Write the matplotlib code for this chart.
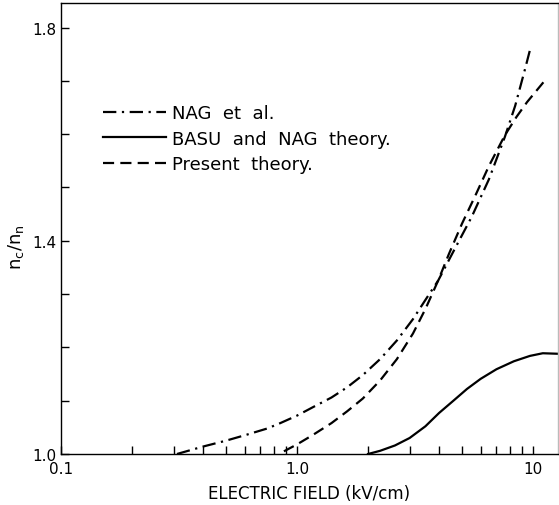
import matplotlib
matplotlib.use("Agg")
import matplotlib.pyplot as plt
from matplotlib.ticker import FixedLocator, FixedFormatter, NullFormatter

# Data
nag_x = [0.31, 0.40, 0.50, 0.61, 0.75, 0.85, 1.0, 1.17, 1.4, 1.63, 1.9, 2.25, 2.65, 3.1, 3.5,
         3.96, 4.6, 5.5, 6.5, 7.6, 8.4, 9.25, 9.8]
nag_y = [1.0, 1.014, 1.025, 1.036, 1.048, 1.058, 1.072, 1.088, 1.106, 1.125, 1.148, 1.178, 1.213,
         1.253, 1.289, 1.325, 1.38, 1.445, 1.515, 1.595, 1.653, 1.722, 1.765]

basu_x = [2.0, 2.25, 2.6, 3.0, 3.5, 4.0, 4.6, 5.25, 6.0, 7.0, 8.3, 9.7, 11.0, 12.8]
basu_y = [1.0, 1.006, 1.016, 1.030, 1.052, 1.077, 1.100, 1.122, 1.141, 1.159, 1.174, 1.184, 1.189, 1.188]

pres_x = [0.88, 1.0, 1.17, 1.4, 1.63, 1.9, 2.25, 2.65, 3.1, 3.5, 3.96, 4.4, 5.0, 5.7, 6.5, 7.6,
          8.5, 9.43, 11.1]
pres_y = [1.005, 1.018, 1.036, 1.058, 1.080, 1.104, 1.138, 1.178, 1.226, 1.272, 1.325, 1.375,
          1.432, 1.485, 1.54, 1.598, 1.632, 1.660, 1.698]

labels = ["NAG  et  al.", "BASU  and  NAG  theory.", "Present  theory."]
xtick_vals = [0.1, 1.0, 10]
xtick_labels = ["0.1", "1.0", "10"]
ytick_vals = [1.0, 1.4, 1.8]
ytick_labels = ["1.0", "1.4", "1.8"]

fig = plt.figure(figsize=(5.59, 5.06), dpi=100)
ax = fig.add_axes([61/559, 51/506, 497/559, 451/506])

lw = 1.6
ax.plot(nag_x, nag_y, color="black", lw=lw, dashes=(6, 2.5, 1, 2.5), label=labels[0])
ax.plot(basu_x, basu_y, color="black", lw=lw, label=labels[1])
ax.plot(pres_x, pres_y, color="black", lw=lw, dashes=(5, 2.8), label=labels[2])

ax.set_xscale("log")
ax.set_xlim(0.1, 12.76)
ax.set_ylim(1.0, 1.846)

ax.xaxis.set_major_locator(FixedLocator(xtick_vals))
ax.xaxis.set_major_formatter(FixedFormatter(xtick_labels))
minors = [m * d for d in (0.1, 1.0) for m in range(2, 10)]
ax.xaxis.set_minor_locator(FixedLocator(minors))
ax.xaxis.set_minor_formatter(NullFormatter())
ax.yaxis.set_major_locator(FixedLocator(ytick_vals))
ax.yaxis.set_major_formatter(FixedFormatter(ytick_labels))
ax.yaxis.set_minor_locator(FixedLocator([1.1, 1.2, 1.3, 1.5, 1.6, 1.7]))

ax.tick_params(axis="both", which="both", direction="in", labelsize=11, width=1.0,
               top=False, right=False)
ax.tick_params(axis="both", which="both", length=6)
ax.tick_params(axis="x", pad=5)
ax.tick_params(axis="y", pad=3)

for s in ax.spines.values():
    s.set_linewidth(1.0)
ax.spines["right"].set_color("#bbbbbb")

ax.set_xlabel("ELECTRIC FIELD (kV/cm)", fontsize=12, labelpad=6)
ax.set_ylabel(r"n$_\mathregular{c}$/n$_\mathregular{n}$", fontsize=13)
ax.yaxis.set_label_coords(-0.07, 0.46)

leg = ax.legend(loc="upper left", bbox_to_anchor=(0.085, 0.775), frameon=False,
                fontsize=13, handlelength=3.5, handletextpad=0.3, labelspacing=0.4,
                borderpad=0, borderaxespad=0)

fig.savefig("out.png", dpi=100)
